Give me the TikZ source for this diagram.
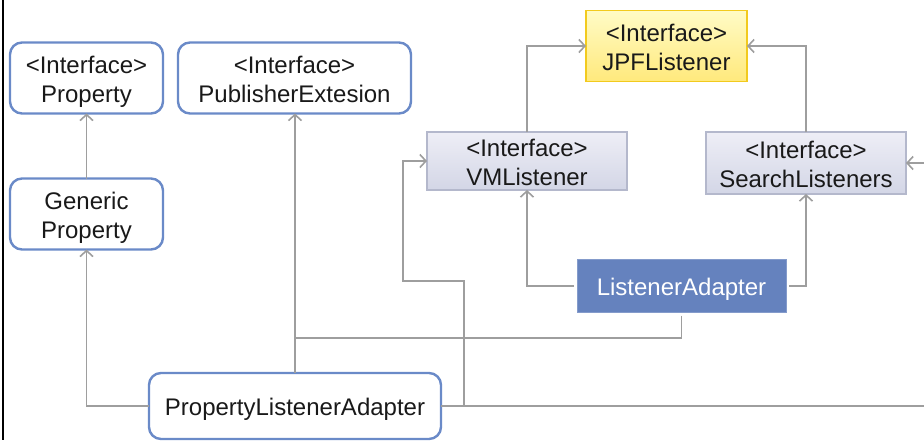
\documentclass[tikz,border=0pt]{standalone}
\usepackage{fontspec}
\setmainfont{Liberation Sans}
\usetikzlibrary{arrows.meta,positioning,calc}
\definecolor{ifColor}{HTML}{6A8AC8}
\definecolor{adColor}{HTML}{6582BE}
\definecolor{lnColor}{HTML}{9E9E9E}
\definecolor{lsTop}{HTML}{EEEEF6}
\definecolor{lsBot}{HTML}{D3D6E6}
\definecolor{lsBorder}{HTML}{B4B8CC}
\definecolor{jpfTop}{HTML}{FFFBC6}
\definecolor{jpfBot}{HTML}{FFE97C}
\definecolor{jpfBorder}{HTML}{F2CA1E}
\tikzset{
	box/.style={inner sep=0, outer sep=0, align=center, text=black!90,
		font=\fontsize{24}{29}\selectfont, text height=24pt, text depth=5pt},
	twoline/.style={text height=53pt, text depth=5pt},
	ifbox/.style={box, draw=ifColor, line width=2.4pt, rounded corners=12pt, fill=white},
	lsbox/.style={box, draw=lsBorder, line width=1.2pt, top color=lsTop, bottom color=lsBot},
	jpfbox/.style={box, draw=jpfBorder, line width=1.2pt, top color=jpfTop, bottom color=jpfBot},
	adbox/.style={box, fill=adColor, draw=adColor!80!white, line width=1pt, text=white},
	conn/.style={draw=lnColor, line width=1.5pt},
	impl/.style={conn, -{Straight Barb[length=6pt,width=13pt,line width=1.6pt]}}
}
\begin{document}
\begin{tikzpicture}[x=1pt, y=-1pt]
	\useasboundingbox (0,0) rectangle (924,440);
	\clip (0,0) rectangle (924,440);
	\draw[black, line width=1.6pt] (3,0) -- (3,440);

	\node[ifbox, twoline, minimum width=153, minimum height=71] (prop) at (86.5, 78) {<Interface>\\Property};
	\node[ifbox, twoline, minimum width=233, minimum height=71] (pubext) at (294.5, 78) {<Interface>\\PublisherExtesion};
	\node[ifbox, twoline, minimum width=153, minimum height=71] (genprop) at (86.5, 214) {Generic\\Property};
	\node[ifbox, minimum width=292, minimum height=66] (pla) at (295, 406) {PropertyListenerAdapter};
	\node[jpfbox, twoline, minimum width=161, minimum height=71] (jpf) at (666.5, 46) {<Interface>\\JPFListener};
	\node[lsbox, twoline, minimum width=200, minimum height=58] (vml) at (527, 161) {<Interface>\\VMListener};
	\node[lsbox, twoline, minimum width=200, minimum height=62] (search) at (806, 163) {<Interface>\\SearchListeners};
	\node[adbox, minimum width=209, minimum height=53] (adapter) at (681.5, 286) {ListenerAdapter};

	\coordinate (join) at (295, 338);

	\draw[impl] (genprop.north) -- (prop.south);
	\draw[impl] (pla.west) -| (genprop.south);
	\draw[impl] (pla.north) -- (pla.north |- pubext.south);
	\draw[conn, shorten <=3pt] (adapter.south) |- (join);
	\draw[impl] (pla.east) -| (464, 281) -- (403, 281) |- (vml.west);
	\draw[impl] (pla.east) -- (960, 406) |- (search.east);
	\draw[impl, shorten <=3pt] (adapter.west) -| (vml.south);
	\draw[impl, shorten <=3pt] (adapter.east) -| (search.south);
	\draw[impl] (vml.north) |- (jpf.west);
	\draw[impl] (search.north) |- (jpf.east);
\end{tikzpicture}
\end{document}
